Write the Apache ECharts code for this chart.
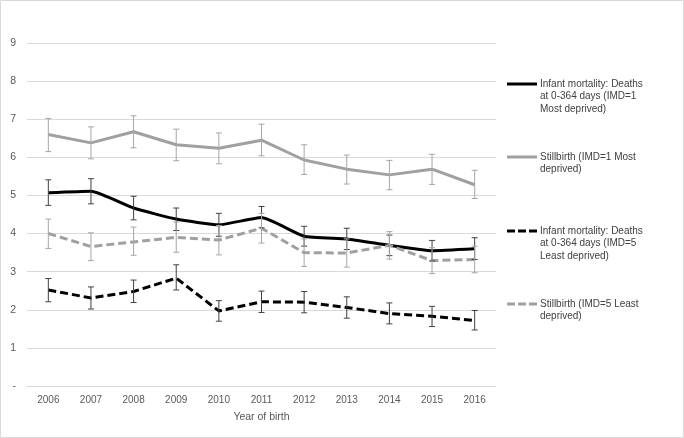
<!DOCTYPE html>
<html>
<head>
<meta charset="utf-8">
<script src="https://cdn.jsdelivr.net/npm/echarts@6/dist/echarts.min.js"></script>
<style>
html,body{margin:0;padding:0;background:#fff;}
#chart{width:684px;height:438px;}
</style>
</head>
<body>
<div id="chart"></div>
<script>
// ---- Data ----
const years = ['2006','2007','2008','2009','2010','2011','2012','2013','2014','2015','2016'];
const yTicks = ['-','1','2','3','4','5','6','7','8','9'];

const seriesNames = [
  'Infant mortality: Deaths at 0-364 days (IMD=1 Most deprived)',
  'Stillbirth (IMD=1 Most deprived)',
  'Infant mortality: Deaths at 0-364 days (IMD=5 Least deprived)',
  'Stillbirth (IMD=5 Least deprived)'
];
const legendLabels = [
  'Infant mortality: Deaths\nat 0-364 days (IMD=1\nMost deprived)',
  'Stillbirth (IMD=1 Most\ndeprived)',
  'Infant mortality: Deaths\nat 0-364 days (IMD=5\nLeast deprived)',
  'Stillbirth (IMD=5 Least\ndeprived)'
];

const infantIMD1 = [5.07, 5.11, 4.67, 4.38, 4.23, 4.42, 3.93, 3.86, 3.69, 3.55, 3.60];
const infantIMD1Low = [4.74, 4.78, 4.36, 4.08, 3.93, 4.15, 3.67, 3.58, 3.42, 3.28, 3.32];
const infantIMD1High = [5.41, 5.44, 4.98, 4.67, 4.53, 4.71, 4.19, 4.14, 3.96, 3.82, 3.89];

const stillIMD1 = [6.60, 6.38, 6.67, 6.33, 6.24, 6.45, 5.93, 5.69, 5.54, 5.69, 5.28];
const stillIMD1Low = [6.15, 5.96, 6.25, 5.91, 5.83, 6.04, 5.55, 5.30, 5.15, 5.29, 4.92];
const stillIMD1High = [7.02, 6.80, 7.09, 6.74, 6.64, 6.87, 6.33, 6.06, 5.92, 6.08, 5.66];

const infantIMD5 = [2.52, 2.31, 2.48, 2.83, 1.97, 2.21, 2.20, 2.06, 1.90, 1.83, 1.72];
const infantIMD5Low = [2.21, 2.02, 2.19, 2.52, 1.70, 1.93, 1.92, 1.78, 1.63, 1.56, 1.47];
const infantIMD5High = [2.82, 2.60, 2.78, 3.18, 2.24, 2.49, 2.48, 2.34, 2.18, 2.09, 1.98];

const stillIMD5 = [4.00, 3.66, 3.78, 3.90, 3.83, 4.14, 3.50, 3.49, 3.69, 3.29, 3.32];
const stillIMD5Low = [3.61, 3.29, 3.43, 3.51, 3.44, 3.75, 3.14, 3.12, 3.33, 2.95, 2.97];
const stillIMD5High = [4.38, 4.02, 4.17, 4.30, 4.21, 4.53, 3.86, 3.86, 4.05, 3.63, 3.67];

// ---- Styles ----
const FONT = '"Liberation Sans", Arial, sans-serif';
const styles = [
  {color:'#000000', dash:'solid', errColor:'#404040', smooth:0.15},
  {color:'#a0a0a0', dash:'solid', errColor:'#a6a6a6', smooth:false},
  {color:'#000000', dash:[8,4], errColor:'#404040', smooth:false},
  {color:'#a0a0a0', dash:[8,4], errColor:'#a6a6a6', smooth:false}
];
const values = [infantIMD1, stillIMD1, infantIMD5, stillIMD5];
const lows = [infantIMD1Low, stillIMD1Low, infantIMD5Low, stillIMD5Low];
const highs = [infantIMD1High, stillIMD1High, infantIMD5High, stillIMD5High];

function errRenderer(color){
  return function(params, api){
    const x = api.value(0);
    const lo = api.coord([x, api.value(1)]);
    const hi = api.coord([x, api.value(2)]);
    const w = 3;
    const st = {stroke:color, lineWidth:1};
    return {type:'group', children:[
      {type:'line', shape:{x1:lo[0], y1:lo[1], x2:hi[0], y2:hi[1]}, style:st},
      {type:'line', shape:{x1:lo[0]-w, y1:lo[1], x2:lo[0]+w, y2:lo[1]}, style:st},
      {type:'line', shape:{x1:hi[0]-w, y1:hi[1], x2:hi[0]+w, y2:hi[1]}, style:st}
    ]};
  };
}

const series = [];
values.forEach((vals, i) => {
  series.push({
    name: seriesNames[i], type:'line', data: vals, symbol:'none',
    smooth: styles[i].smooth,
    lineStyle:{color:styles[i].color, width:3, type:styles[i].dash},
    itemStyle:{color:styles[i].color}, z: 2 + i
  });
  series.push({
    name: seriesNames[i] + ' CI', type:'custom',
    renderItem: errRenderer(styles[i].errColor),
    data: years.map((y, k) => [k, lows[i][k], highs[i][k]]),
    encode:{x:0, y:[1,2]}, z: 10 + i, silent:true
  });
});

// legend drawn as graphic (icon aligned with first text line)
const legendTops = [84, 157, 231, 304];
const graphic = [
  {type:'rect', shape:{x:0.5, y:0.5, width:683, height:437}, style:{fill:'none', stroke:'#d9d9d9', lineWidth:1}, silent:true}
];
legendTops.forEach((y, i) => {
  graphic.push({type:'line', shape:{x1:507, y1:y, x2:537, y2:y},
    style:{stroke:styles[i].color, lineWidth:3, lineDash: styles[i].dash === 'solid' ? null : [8,3]}});
  graphic.push({type:'text', left:540, top:y - 6.5,
    style:{text:legendLabels[i], fill:'#404040', font:'10px ' + FONT, lineHeight:12.7}});
});

const chart = echarts.init(document.getElementById('chart'), null, {renderer:'canvas'});
chart.setOption({
  backgroundColor:'#ffffff',
  animation:false,
  grid:{left:27, right:188, top:43, bottom:52},
  xAxis:{
    type:'category', data: years, boundaryGap:true,
    name:'Year of birth', nameLocation:'middle', nameGap:26,
    nameTextStyle:{color:'#595959', fontSize:10.5, fontFamily:FONT},
    axisLine:{show:true, lineStyle:{color:'#d9d9d9'}},
    axisTick:{show:false},
    axisLabel:{color:'#595959', fontSize:10, fontFamily:FONT, margin:9}
  },
  yAxis:{
    type:'value', min:0, max:9, interval:1,
    axisLine:{show:false}, axisTick:{show:false},
    splitLine:{lineStyle:{color:'#d9d9d9', width:1}},
    axisLabel:{color:'#595959', fontSize:10.5, fontFamily:FONT, margin:11,
      formatter: v => yTicks[Math.round(v)]}
  },
  graphic: graphic,
  series: series
});
</script>
</body>
</html>
